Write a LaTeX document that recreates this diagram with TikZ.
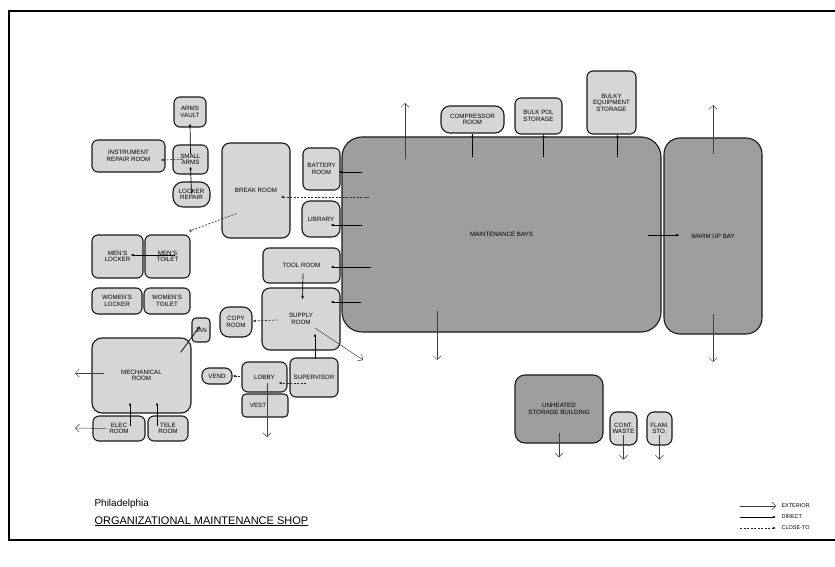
\documentclass[tikz,border=0pt]{standalone}
\usepackage{fontspec}
\setmainfont{Liberation Sans}
\usetikzlibrary{arrows.meta,positioning,calc}

\tikzset{
  room/.style={draw=black!90,line width=1.1pt,fill=black!16,rounded corners=6pt,inner sep=1pt,align=center,font=\fontsize{6.2}{6.6}\selectfont},
  bigroom/.style={room,fill=black!38,rounded corners=16pt},
  exterior/.style={black!75,line width=0.5pt,-{Straight Barb[length=4pt,width=8pt]}},
  direct/.style={black,line width=0.7pt,-{Latex[length=3pt,width=2.6pt]}},
  closeto/.style={black!85,line width=0.6pt,dash pattern=on 2pt off 1.5pt,-{Latex[length=3pt,width=2.6pt]}},
  legtext/.style={anchor=west,font=\fontsize{5.5}{6}\selectfont}
}

\begin{document}
\begin{tikzpicture}[x=1pt,y=-1pt]
\useasboundingbox (0,0) rectangle (835,567);
\draw[line width=1.2pt] (836,11) -- (9,11) -- (9,540) -- (836,540);
% arms rooms
\node[room,minimum width=32,minimum height=30] (armsv) at (190,112) {ARMS\\VAULT};
\node[room,minimum width=35,minimum height=29] (smarms) at (190.5,159.5) {SMALL\\ARMS};
\node[room,minimum width=37,minimum height=25,rounded corners=10pt] (lockrep) at (191.5,194.5) {LOCKER\\REPAIR};
\node[room,minimum width=73,minimum height=32] (instr) at (128.5,156) {INSTRUMENT\\REPAIR ROOM};
% lockers, toilets, mechanical
\node[room,minimum width=51,minimum height=43] (menlock) at (117.5,256.5) {MEN'S\\LOCKER};
\node[room,minimum width=45,minimum height=43] (mentoil) at (167.5,256.5) {MEN'S\\TOILET};
\node[room,minimum width=50,minimum height=26] (womlock) at (117,301) {WOMEN'S\\LOCKER};
\node[room,minimum width=46,minimum height=26] (womtoil) at (167,301) {WOMEN'S\\TOILET};
\node[room,minimum width=18,minimum height=24,rounded corners=4pt] (jan) at (201,330) {JAN};
\node[room,minimum width=99,minimum height=75,rounded corners=10pt] (mech) at (141.5,375.5) {MECHANICAL\\ROOM};
\node[room,minimum width=52,minimum height=25] (elec) at (119,428.5) {ELEC\\ROOM};
\node[room,minimum width=40,minimum height=25] (tele) at (168,428.5) {TELE\\ROOM};
% middle rooms
\node[room,minimum width=68,minimum height=95,rounded corners=8pt] (brk) at (256,190.5) {BREAK ROOM};
\node[room,minimum width=37,minimum height=42] (batt) at (321.5,169) {BATTERY\\ROOM};
\node[room,minimum width=38,minimum height=36,rounded corners=8pt] (lib) at (321,219) {LIBRARY};
\node[room,minimum width=77,minimum height=35] (tool) at (301.5,265.5) {TOOL ROOM};
\node[room,minimum width=78,minimum height=62,rounded corners=8pt] (supply) at (301,319) {SUPPLY\\ROOM};
\node[room,minimum width=32,minimum height=30,rounded corners=9pt] (copy) at (236,322) {COPY\\ROOM};
\node[room,minimum width=48,minimum height=39] (superv) at (314,377.5) {SUPERVISOR};
\node[room,minimum width=45,minimum height=30] (lobby) at (264.5,377) {LOBBY};
\node[room,minimum width=30,minimum height=16,rounded corners=7pt] (vend) at (217,376) {VEND};
\node[room,minimum width=46,minimum height=23,rounded corners=4pt] (vest) at (265,405.5) {VEST\hspace{14pt}};
% bays and storage
\node[bigroom,minimum width=319,minimum height=195,rounded corners=20pt] (bays) at (501.5,234.5) {MAINTENANCE BAYS};
\node[bigroom,minimum width=98,minimum height=196] (warm) at (713,236) {WARM UP BAY};
\node[room,minimum width=63,minimum height=27,rounded corners=9pt] (comp) at (472.5,119.5) {COMPRESSOR\\ROOM};
\node[room,minimum width=47,minimum height=36] (bulkpol) at (538.5,116) {BULK POL\\STORAGE};
\node[room,minimum width=49,minimum height=63] (bulky) at (611.5,102.5) {BULKY\\EQUIPMENT\\STORAGE};
\node[bigroom,minimum width=88,minimum height=68,rounded corners=10pt] (unh) at (559,409) {UNHEATED\\STORAGE BUILDING};
\node[room,minimum width=27,minimum height=33,rounded corners=7pt] (contw) at (623.5,428.5) {CONT.\\WASTE};
\node[room,minimum width=25,minimum height=33,rounded corners=7pt] (flam) at (659.5,428.5) {FLAM.\\STO.};

% direct links
\draw[direct] ($(smarms.north)+(0,10)$) -- ($(armsv.south)+(0,-4)$);
\draw[direct] ($(lockrep.north)+(0,12)$) -- ($(smarms.south)+(0,-8)$);
\draw[direct] ($(mentoil.center)+(7.5,-1.5)$) -- ($(menlock.east)+(-13,-1.5)$);
\draw[direct] ($(mech.north east)+(-11,15)$) -- ($(jan.center)+(-1,-4)$);
\draw[direct] ($(elec.north)+(11,11)$) -- ($(elec.north)+(11,-13)$);
\draw[direct] ($(tele.north)+(-11,11)$) -- ($(tele.north)+(-11,-13)$);
\draw[direct] ($(bays.west |- batt.east)+(21,3)$) -- ($(batt.east)+(-2,3)$);
\draw[direct] ($(bays.west |- lib.east)+(21,6)$) -- ($(lib.east)+(-10,6)$);
\draw[direct] ($(bays.west |- tool.east)+(30,1.5)$) -- ($(tool.east)+(-10,1.5)$);
\draw[direct] ($(bays.west |- supply.east)+(20,-17)$) -- ($(supply.east)+(-10,-17)$);
\draw[direct] ($(tool.south)+(1.5,-10)$) -- ($(supply.north)+(1.5,12)$);
\draw[direct] ($(superv.north)+(1,2)$) -- ($(supply.south)+(14,-17)$);
\draw[direct] ($(bays.east |- warm.west)+(-14,-1)$) -- ($(warm.west)+(16,-1)$);
\foreach \r/\dx in {comp/0,bulkpol/5,bulky/6}
  \draw[direct] ($(\r.south |- bays.north)+(\dx,21)$) -- ($(\r.south)+(\dx,0)$);
% close-to links
\draw[closeto] ($(smarms.west)+(10,0)$) -- ($(instr.east)+(-5,4)$);
\draw[closeto] ($(brk.south west)+(15,-25)$) -- ($(mentoil.north east)+(-2,-3)$);
\draw[closeto] ($(bays.west |- brk.east)+(28,6.5)$) -- ($(brk.east)+(-10,6.5)$);
\draw[closeto] ($(supply.west)+(16,1)$) -- ($(copy.east)+(0,-1)$);
\draw[closeto] ($(superv.west)+(17,5.5)$) -- ($(lobby.east)+(-9,6)$);
\draw[closeto] ($(lobby.west)+(-1,-1)$) -- (vend.east);
% exterior exits
\coordinate (baysN) at (405,103);
\coordinate (baysS) at (437,360);
\coordinate (warmN) at (713,105);
\coordinate (warmS) at (713,362);
\coordinate (mechW) at (75,373);
\coordinate (elecW) at (75,428);
\coordinate (lobbyS) at (267,437);
\coordinate (supplyX) at (363,360);
\draw[exterior] (baysN |- bays.north) ++(0,23) -- (baysN);
\draw[exterior] (baysS |- bays.south) ++(0,-22) -- (baysS);
\draw[exterior] (warm.north) ++(0,17) -- (warmN);
\draw[exterior] (warm.south) ++(0,-21) -- (warmS);
\draw[exterior] ($(mech.west)+(13,-2.5)$) -- (mechW);
\draw[exterior] ($(elec.west)+(14,0)$) -- (elecW);
\draw[exterior] ($(lobby.center)+(2.5,6)$) -- (lobbyS);
\draw[exterior] ($(supply.center)+(14,9)$) -- (supplyX);
\foreach \r in {unh,contw,flam}{
  \coordinate (\r out) at ($(\r.south)+(0,14)$);
  \draw[exterior] ($(\r.south)+(0,-11)$) -- (\r out);
}
% title
\node[anchor=base west,font=\fontsize{10}{12}\selectfont] (city) at (91,506) {Philadelphia};
\node[anchor=base west,font=\fontsize{11}{13}\selectfont] (shop) at (91,524) {\underline{ORGANIZATIONAL MAINTENANCE SHOP}};
% legend
\coordinate (lgExA) at (740,506); \coordinate (lgExB) at (776,506);
\coordinate (lgDiA) at (740,517); \coordinate (lgDiB) at (776,517);
\coordinate (lgClA) at (740,528); \coordinate (lgClB) at (776,528);
\draw[exterior] (lgExA) -- (lgExB);
\draw[direct] (lgDiA) -- (lgDiB);
\draw[closeto] (lgClA) -- (lgClB);
\node[legtext] (lgEx) at (778,506) {EXTERIOR};
\node[legtext] (lgDi) at (778,517) {DIRECT};
\node[legtext] (lgCl) at (778,528) {CLOSE-TO};
\end{tikzpicture}
\end{document}
